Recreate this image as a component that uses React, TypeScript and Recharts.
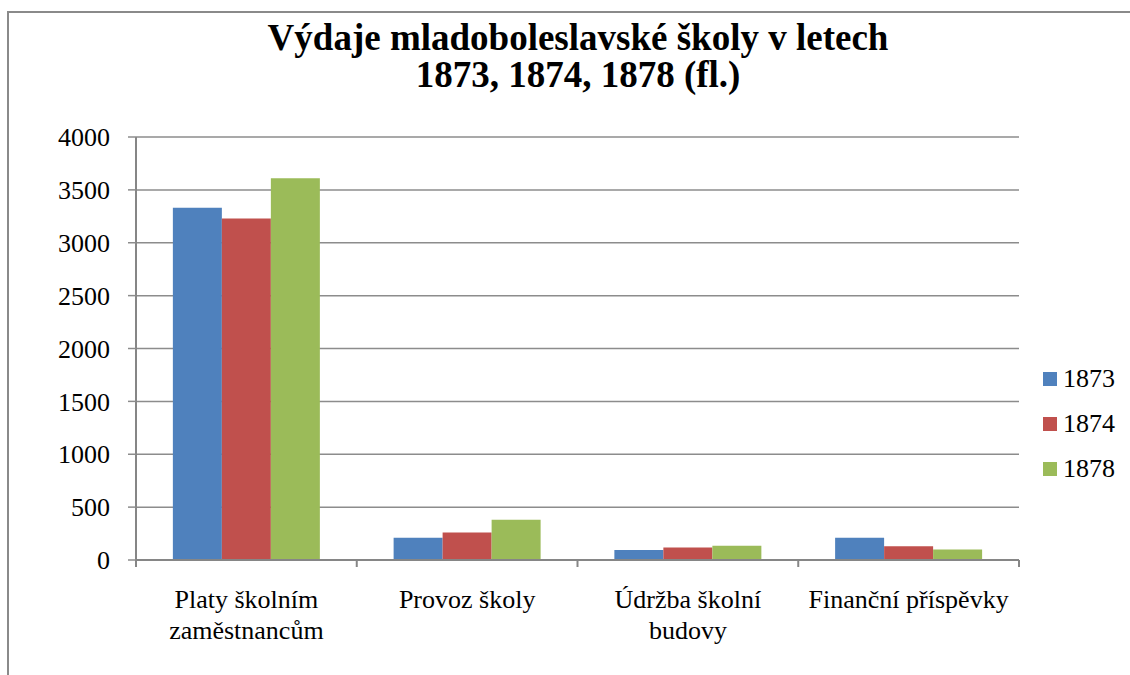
import React from "react";
import { BarChart, Bar, XAxis, YAxis, CartesianGrid, Legend } from "recharts";

const categories = [
  "Platy školním zaměstnancům",
  "Provoz školy",
  "Údržba školní budovy",
  "Finanční příspěvky",
];
const years = ["1873", "1874", "1878"];
const v1873 = [3330, 210, 95, 210];
const v1874 = [3230, 260, 118, 130];
const v1878 = [3610, 380, 135, 100];
const yTicks = [0, 500, 1000, 1500, 2000, 2500, 3000, 3500, 4000];
const titleLines = ["Výdaje mladoboleslavské školy v letech", "1873, 1874, 1878 (fl.)"];

const colors = ["#4f81bd", "#c0504d", "#9bbb59"];
const serif = "'Liberation Serif', 'Times New Roman', serif";

const data = categories.map((name, i) => ({
  name,
  "1873": v1873[i],
  "1874": v1874[i],
  "1878": v1878[i],
}));

const W = 1121;
const H = 662;
const margin = { top: 124, right: 21, bottom: 0, left: 0 };
const yAxisW = 127;
const legendW = 90;
const plotW = W - margin.left - margin.right - yAxisW - legendW;
const band = plotW / categories.length;

// wrap long category names the way Excel did
function wrap(label: string, maxChars = 18) {
  const words = label.split(" ");
  const lines: string[] = [];
  let cur = "";
  for (const w of words) {
    const next = cur ? cur + " " + w : w;
    if (next.length > maxChars && cur) {
      lines.push(cur);
      cur = w;
    } else cur = next;
  }
  if (cur) lines.push(cur);
  return lines;
}

function CatTick(props: any) {
  const { x, y, payload, index } = props;
  const lines = wrap(payload.value);
  const left = x - band / 2;
  const right = x + band / 2;
  return (
    <g>
      <line x1={left} x2={left} y1={y} y2={y + 7} stroke="#868686" strokeWidth={2} />
      {index === categories.length - 1 && (
        <line x1={right} x2={right} y1={y} y2={y + 7} stroke="#868686" strokeWidth={2} />
      )}
      {lines.map((ln, i) => (
        <text
          key={i}
          x={x}
          y={y + 48 + i * 31}
          textAnchor="middle"
          style={{ fontFamily: serif }}
          fontSize={26}
          fill="#000"
        >
          {ln}
        </text>
      ))}
    </g>
  );
}

function LegendBox(props: any) {
  const { payload } = props;
  return (
    <div style={{ width: legendW, paddingLeft: 24, boxSizing: "border-box" }}>
      {(payload || []).map((p: any) => (
        <div
          key={p.value}
          style={{ display: "flex", alignItems: "center", height: 45, fontFamily: serif, fontSize: 26 }}
        >
          <span
            style={{
              width: 14,
              height: 14,
              flexShrink: 0,
              background: p.color,
              marginRight: 6,
              display: "inline-block",
            }}
          />
          <span style={{ color: "#000", whiteSpace: "nowrap" }}>{p.value}</span>
        </div>
      ))}
    </div>
  );
}

export default function App() {
  return (
    <div
      style={{
        position: "absolute",
        left: 7,
        top: 11,
        width: W,
        height: H,
        borderLeft: "2px solid #8a8a8a",
        borderTop: "2px solid #8a8a8a",
        background: "#fff",
        fontFamily: serif,
      }}
    >
      <BarChart
        width={W}
        height={H}
        data={data}
        margin={margin}
        barCategoryGap="16.7%"
        barGap={0}
        style={{ fontFamily: serif }}
      >
        <CartesianGrid vertical={false} stroke="#8c8c8c" strokeWidth={1.5} />
        <XAxis
          dataKey="name"
          interval={0}
          height={115}
          tickSize={0}
          tickMargin={0}
          tickLine={false}
          axisLine={{ stroke: "#868686", strokeWidth: 2 }}
          tick={<CatTick />}
        />
        <YAxis
          width={yAxisW}
          domain={[0, 4000]}
          ticks={yTicks}
          interval={0}
          tickSize={8}
          tickMargin={18}
          tickLine={{ stroke: "#8c8c8c", strokeWidth: 1.5 }}
          axisLine={{ stroke: "#868686", strokeWidth: 2 }}
          tick={{ style: { fontFamily: serif }, fontSize: 26, fill: "#000" }}
        />
        <Legend
          layout="vertical"
          align="right"
          verticalAlign="middle"
          content={<LegendBox />}
          wrapperStyle={{ top: 343 }}
        />
        {years.map((yr, i) => (
          <Bar key={yr} dataKey={yr} fill={colors[i]} isAnimationActive={false} />
        ))}
      </BarChart>
      <div
        style={{
          position: "absolute",
          left: 169,
          top: 6,
          width: 800,
          textAlign: "center",
          whiteSpace: "nowrap",
          fontFamily: serif,
          fontWeight: "bold",
          fontSize: 37,
          lineHeight: "37px",
          color: "#000",
        }}
      >
        {titleLines.map((t) => (
          <div key={t}>{t}</div>
        ))}
      </div>
    </div>
  );
}
